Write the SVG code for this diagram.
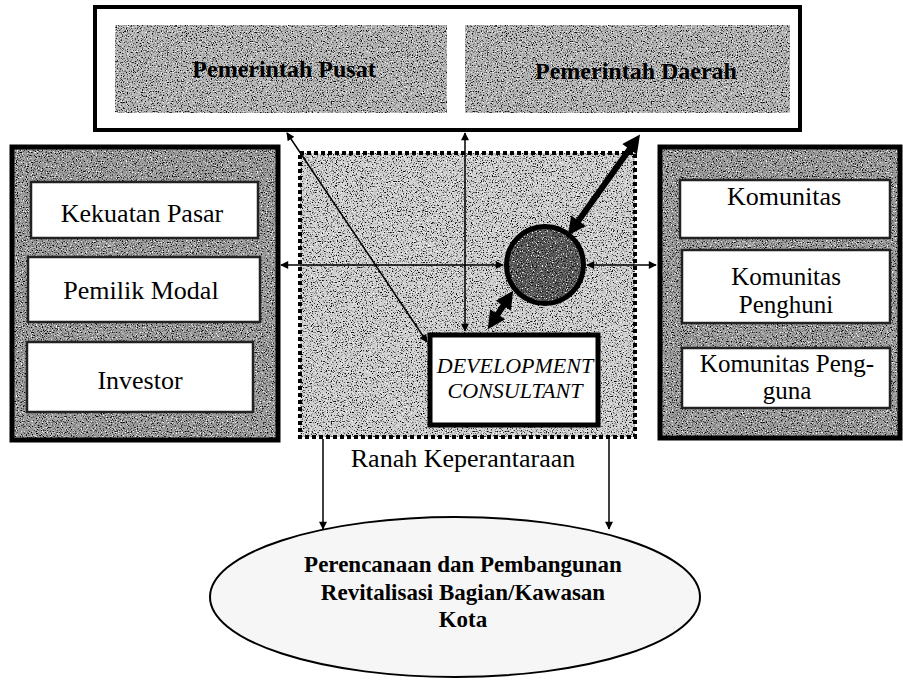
<svg xmlns="http://www.w3.org/2000/svg" width="903" height="683" viewBox="0 0 903 683">
<style>
.t{font-family:"Liberation Serif","Times New Roman",serif;fill:#000;text-anchor:middle}
.r{font-size:26px}
.r2{font-size:25px}
.b{font-size:24px;font-weight:bold}
.e{font-size:23px;font-weight:bold}
.i{font-size:22px;font-style:italic}
.wb{fill:#fff;stroke:#222;stroke-width:2.5}
.ln{fill:none;stroke:#000;stroke-width:1.5}
.th{fill:none;stroke:#000;stroke-width:6}
</style>
<defs>
<filter id="grain" x="0" y="0" width="1" height="1" color-interpolation-filters="sRGB">
<feTurbulence type="fractalNoise" baseFrequency="0.8" numOctaves="2" seed="7" result="n"/>
<feColorMatrix in="n" type="matrix" values="0 0 0 0 0  0 0 0 0 0  0 0 0 0 0  -5 0 0 0 2.25" result="d"/>
<feComposite in="d" in2="SourceGraphic" operator="in" result="dd"/>
<feColorMatrix in="n" type="matrix" values="0 0 0 0 1  0 0 0 0 1  0 0 0 0 1  5 0 0 0 -2.9" result="w"/>
<feComposite in="w" in2="SourceGraphic" operator="in" result="ww"/>
<feMerge><feMergeNode in="SourceGraphic"/><feMergeNode in="dd"/><feMergeNode in="ww"/></feMerge>
</filter>
<marker id="a" viewBox="0 0 10 10" refX="9" refY="5" markerWidth="11" markerHeight="8" markerUnits="userSpaceOnUse" orient="auto-start-reverse"><path d="M0,0 L10,5 L0,10 z" fill="#000"/></marker>
<marker id="A" viewBox="0 0 10 10" refX="1" refY="5" markerWidth="20" markerHeight="18" markerUnits="userSpaceOnUse" orient="auto-start-reverse"><path d="M0,0 L10,5 L0,10 z" fill="#000"/></marker>
</defs>
<rect width="903" height="683" fill="#fff"/>

<g id="ranah">
<rect x="300" y="153" width="335" height="284" fill="#cfcfcf" filter="url(#grain)"/>
<rect x="300" y="153" width="335" height="284" fill="none" stroke="#000" stroke-width="4" stroke-dasharray="4 3"/>
<text class="t r" x="463" y="467">Ranah Keperantaraan</text>
</g>

<g id="pemerintah">
<rect x="95" y="7" width="705" height="123" fill="#fff" stroke="#000" stroke-width="4"/>
<g id="pusat">
<rect x="115" y="25" width="332" height="88" fill="#b4b4b4" filter="url(#grain)"/>
<text class="t b" x="284" y="77">Pemerintah Pusat</text>
</g>
<g id="daerah">
<rect x="465" y="25" width="325" height="88" fill="#b4b4b4" filter="url(#grain)"/>
<text class="t b" x="636" y="79">Pemerintah Daerah</text>
</g>
</g>

<g id="pasar">
<rect x="12" y="147" width="266" height="293" fill="#9a9a9a" filter="url(#grain)"/>
<rect x="12" y="147" width="266" height="293" fill="none" stroke="#000" stroke-width="5"/>
<g id="kekuatan"><rect class="wb" x="31" y="182" width="227" height="56"/><text class="t r" x="142" y="222">Kekuatan Pasar</text></g>
<g id="modal"><rect class="wb" x="28" y="257" width="232" height="65"/><text class="t r" x="141" y="299">Pemilik Modal</text></g>
<g id="investor"><rect class="wb" x="27" y="342" width="226" height="70"/><text class="t r" x="140" y="389">Investor</text></g>
</g>

<g id="komunitas-panel">
<rect x="660" y="147" width="240" height="291" fill="#9a9a9a" filter="url(#grain)"/>
<rect x="660" y="147" width="240" height="291" fill="none" stroke="#000" stroke-width="5"/>
<g id="komunitas"><rect class="wb" x="680" y="180" width="210" height="58"/><text class="t r" x="784" y="205">Komunitas</text></g>
<g id="penghuni"><rect class="wb" x="682" y="250" width="208" height="73"/><text class="t r2" x="786" y="285">Komunitas</text><text class="t r2" x="786" y="313">Penghuni</text></g>
<g id="pengguna"><rect class="wb" x="682" y="348" width="208" height="60"/><text class="t r2" x="787" y="372">Komunitas Peng-</text><text class="t r2" x="787" y="399">guna</text></g>
</g>

<g id="hub">
<circle cx="545" cy="265" r="38.5" fill="#5a5a5a" filter="url(#grain)"/>
<circle cx="545" cy="265" r="38.5" fill="none" stroke="#000" stroke-width="5"/>
</g>

<g id="consultant">
<rect x="430" y="335" width="168" height="90" fill="#fff" stroke="#000" stroke-width="5"/>
<text class="t i" x="515" y="373">DEVELOPMENT</text>
<text class="t i" x="515" y="398">CONSULTANT</text>
</g>

<g id="kota">
<ellipse cx="455" cy="597" rx="245" ry="80" fill="#f6f6f6" stroke="#000" stroke-width="2"/>
<text class="t e" x="463" y="572">Perencanaan dan Pembangunan</text>
<text class="t e" x="463" y="600">Revitalisasi Bagian/Kawasan</text>
<text class="t e" x="463" y="627">Kota</text>
</g>

<g id="connectors">
<path class="ln" d="M281,265 H503" marker-start="url(#a)" marker-end="url(#a)"/>
<path class="ln" d="M587,265 H656" marker-start="url(#a)" marker-end="url(#a)"/>
<path class="ln" d="M287,133 L427,342" marker-start="url(#a)" marker-end="url(#a)"/>
<path class="ln" d="M465,133 V331" marker-start="url(#a)" marker-end="url(#a)"/>
<path class="th" d="M630.6,147.7 L577.4,222.3" marker-start="url(#A)" marker-end="url(#A)"/>
<path class="th" d="M504.3,304.2 L496.7,315.8" stroke-width="5" marker-start="url(#A)" marker-end="url(#A)"/>
<path class="ln" d="M323,439 V529" marker-end="url(#a)"/>
<path class="ln" d="M609,439 V529" marker-end="url(#a)"/>
</g>
</svg>
